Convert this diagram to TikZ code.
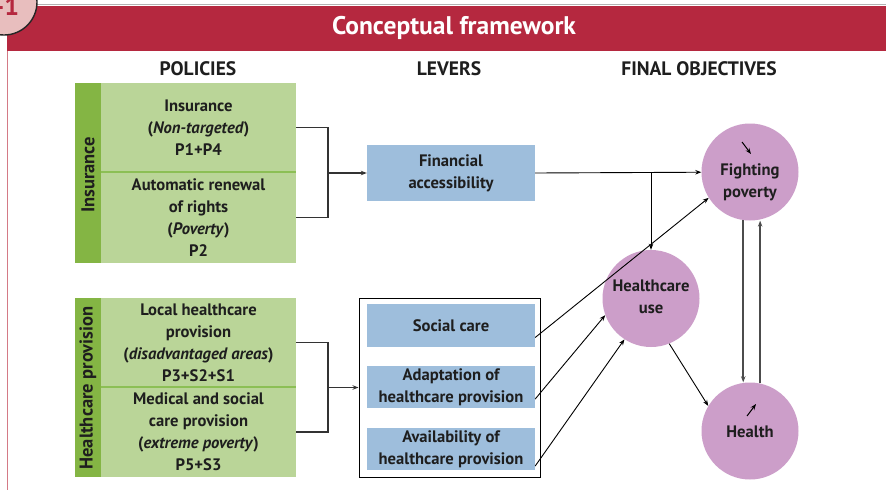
\documentclass[tikz,border=0pt]{standalone}
\usepackage{fontspec}
\setmainfont{PT Sans}
\usetikzlibrary{arrows.meta}
\definecolor{bandred}{HTML}{B5283F}
\definecolor{badgefill}{HTML}{E8BEBE}
\definecolor{leafgreen}{HTML}{BAD598}
\definecolor{stripgreen}{HTML}{84B544}
\definecolor{rulegreen}{HTML}{8CBF55}
\definecolor{leverblue}{HTML}{9EBEDC}
\definecolor{goalpink}{HTML}{CC9EC9}
\definecolor{inkgray}{HTML}{1E1E1E}
\definecolor{framepink}{HTML}{D47A86}
\tikzset{
  x=1pt, y=-1pt,
  every node/.style={text=inkgray, font=\fontsize{16.6}{22}\selectfont\bfseries},
  policybox/.style={fill=leafgreen, minimum width=195, inner sep=0, align=center},
  strip/.style={fill=stripgreen, minimum width=26, inner sep=0},
  striptext/.style={rotate=90, font=\fontsize{18.5}{22}\selectfont\bfseries},
  leverbox/.style={fill=leverblue, minimum width=168, inner sep=0, align=center},
  goal/.style={circle, fill=goalpink, minimum size=97, inner sep=0},
  goaltext/.style={align=center, inner sep=0},
  header/.style={font=\fontsize{19.5}{22}\selectfont\bfseries},
  tip/.style={-{Stealth[length=6pt,width=4.5pt]}},
  bracket/.style={draw=black!80, line width=1.2pt},
  link/.style={draw=black, line width=0.9pt, tip},
  loop/.style={draw=black!70, line width=1.5pt, tip},
}
\begin{document}
\begin{tikzpicture}
\useasboundingbox (0,0) rectangle (886,490);
\fill[white] (0,0) rectangle (886,490);

% frame and title band
\draw[black!30, line width=0.8pt] (7,4.5) -- (886,4.5);
\draw[framepink, line width=1pt] (7.5,51) -- (7.5,490);
\fill[bandred] (7,6) rectangle (886,51);
\node[text=white, font=\fontsize{25.5}{28}\selectfont\bfseries] (title) at (454,28) {Conceptual framework};
\node[circle, draw=black!85, line width=1.4pt, fill=badgefill, minimum size=66, inner sep=0] (badge) at (4,2) {};
\node[text=bandred, font=\fontsize{26}{30}\selectfont\bfseries, anchor=base] (badgenum) at (7,15) {-1};

% column headings
\node[header] (hpol) at (198,69) {POLICIES};
\node[header] (hlev) at (449,69) {LEVERS};
\node[header] (hobj) at (699,69) {FINAL OBJECTIVES};

% insurance policies
\node[strip, minimum height=180] (sins) at (88,173) {};
\node[striptext] (sinst) at (88,175) {Insurance};
\node[policybox, minimum height=89] (ins1) at (198.5,127.5) {Insurance\\(\textit{Non-targeted})\\P1+P4};
\node[policybox, minimum height=91] (ins2) at (198.5,217.5) {Automatic renewal\\of rights\\(\textit{Poverty})\\P2};
\draw[rulegreen, line width=1.5pt] (ins1.south west) -- (ins1.south east);

% healthcare provision policies
\node[strip, minimum height=179] (shp) at (88,387.5) {};
\node[striptext] (shpt) at (88,388) {Healthcare provision};
\node[policybox, minimum height=89] (hp1) at (198.5,342.5) {Local healthcare\\provision\\(\textit{disadvantaged areas})\\P3+S2+S1};
\node[policybox, minimum height=90] (hp2) at (198.5,432) {Medical and social\\care provision\\(\textit{extreme poverty})\\P5+S3};
\draw[rulegreen, line width=1.5pt] (hp1.south west) -- (hp1.south east);

% levers
\node[leverbox, minimum height=56] (fin) at (451,173) {Financial\\accessibility};
\node[draw=black, line width=1pt, minimum width=181, minimum height=179, inner sep=0] (care) at (449.5,387.5) {};
\node[leverbox, minimum height=43] (soc) at (451,325.5) {Social care};
\node[leverbox, minimum height=42] (adapt) at (451,387) {Adaptation of\\healthcare provision};
\node[leverbox, minimum height=42] (avail) at (451,449) {Availability of\\healthcare provision};

% final objectives
\node[goal] (fp) at (750,172) {};
\node[goaltext] (fpt) at (750,182) {Fighting\\poverty};
\node[goal] (hu) at (651,298.5) {};
\node[goaltext] (hut) at (651,297) {Healthcare\\use};
\node[goal] (hl) at (750,431) {};
\node[goaltext] (hlt) at (750,432) {Health};
\draw[link, line width=1pt] ([shift={(-8,-30)}]fp.center) -- ([shift={(1,-18)}]fp.center);
\draw[link, line width=1pt] ([shift={(-3,-15)}]hl.center) -- ([shift={(6,-27)}]hl.center);

% brackets from policies to levers
\coordinate (bins) at (328,173);
\draw[bracket] (ins1.east) -| (bins) |- (ins2.east);
\draw[bracket, tip] (bins) -- (fin.west);
\coordinate (bhp) at (328,387.5);
\draw[bracket] (hp1.east) -| (bhp) |- (hp2.east);
\draw[bracket, tip] (bhp) -- (care.west);

% levers to objectives
\coordinate (split) at (651,173);
\draw[link] (fin.east) -- (fp);
\draw[link] (split) -- (hu.north);
\draw[link] ([yshift=-12]soc.east) -- (fp.212);
\draw[link] ([yshift=-12]adapt.east) -- (hu.200);
\draw[link] ([yshift=-17]avail.east) -- (hu.237);
\draw[link] (hu.-68) -- (hl.149);

% feedback between poverty and health
\draw[loop] (fp.-98) -- (fp.-98 |- hl.north);
\draw[loop] (hl.78) -- (hl.78 |- fp.south);
\end{tikzpicture}
\end{document}
